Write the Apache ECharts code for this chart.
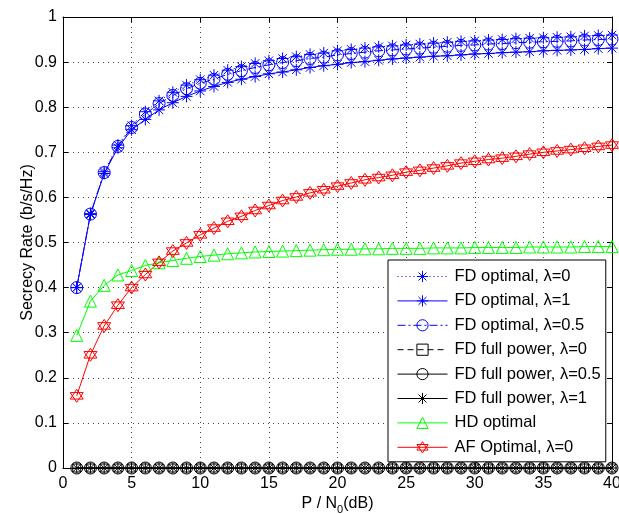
<!DOCTYPE html>
<html>
<head>
<meta charset="utf-8">
<script src="https://cdn.jsdelivr.net/npm/echarts@6/dist/echarts.min.js"></script>
<style>
html,body{margin:0;padding:0;background:#fff;}
#chart{width:619px;height:514px;}
</style>
</head>
<body>
<div id="chart"></div>
<script>
var xValues = [1,2,3,4,5,6,7,8,9,10,11,12,13,14,15,16,17,18,19,20,21,22,23,24,25,26,27,28,29,30,31,32,33,34,35,36,37,38,39,40];

var fdOptLam0 = [0.400,0.564,0.657,0.716,0.759,0.790,0.814,0.833,0.849,0.861,0.871,0.882,0.890,0.897,0.903,0.908,0.912,0.917,0.920,0.925,0.928,0.931,0.934,0.936,0.938,0.940,0.942,0.944,0.946,0.947,0.949,0.950,0.952,0.953,0.954,0.955,0.956,0.958,0.959,0.960];
var fdOptLam1 = [0.400,0.562,0.653,0.710,0.750,0.773,0.794,0.810,0.824,0.836,0.846,0.855,0.862,0.868,0.874,0.878,0.883,0.888,0.892,0.895,0.899,0.901,0.904,0.907,0.909,0.911,0.913,0.914,0.916,0.918,0.919,0.921,0.922,0.923,0.925,0.926,0.927,0.928,0.930,0.931];
var fdOptLam05 = [0.400,0.563,0.655,0.713,0.755,0.785,0.808,0.826,0.841,0.853,0.862,0.873,0.881,0.888,0.894,0.899,0.903,0.908,0.911,0.916,0.919,0.922,0.925,0.927,0.929,0.931,0.933,0.935,0.937,0.938,0.940,0.941,0.943,0.944,0.945,0.946,0.947,0.949,0.950,0.951];
var fdFullLam0 = [0,0,0,0,0,0,0,0,0,0,0,0,0,0,0,0,0,0,0,0,0,0,0,0,0,0,0,0,0,0,0,0,0,0,0,0,0,0,0,0];
var fdFullLam05 = [0,0,0,0,0,0,0,0,0,0,0,0,0,0,0,0,0,0,0,0,0,0,0,0,0,0,0,0,0,0,0,0,0,0,0,0,0,0,0,0];
var fdFullLam1 = [0,0,0,0,0,0,0,0,0,0,0,0,0,0,0,0,0,0,0,0,0,0,0,0,0,0,0,0,0,0,0,0,0,0,0,0,0,0,0,0];
var hdOpt = [0.294,0.370,0.405,0.428,0.438,0.449,0.455,0.460,0.465,0.469,0.472,0.475,0.477,0.479,0.480,0.481,0.482,0.483,0.484,0.485,0.485,0.486,0.486,0.487,0.487,0.487,0.488,0.488,0.488,0.489,0.489,0.489,0.489,0.490,0.490,0.490,0.490,0.491,0.491,0.491];
var afOpt = [0.160,0.251,0.315,0.361,0.400,0.429,0.456,0.481,0.499,0.517,0.532,0.547,0.558,0.571,0.582,0.593,0.601,0.610,0.617,0.625,0.632,0.639,0.644,0.649,0.656,0.660,0.665,0.670,0.676,0.680,0.684,0.687,0.691,0.696,0.700,0.703,0.706,0.709,0.713,0.716];

var seriesNames = ['FD optimal, λ=0','FD optimal, λ=1','FD optimal, λ=0.5','FD full power, λ=0','FD full power, λ=0.5','FD full power, λ=1','HD optimal','AF Optimal, λ=0'];

var FONT = "'Liberation Sans', Arial, sans-serif";
var ASTERISK = 'path://M10,0L10,20M0,10L20,10M2.93,2.93L17.07,17.07M2.93,17.07L17.07,2.93';
var HEXAGRAM = 'path://M10,0L18.66,15L1.34,15ZM10,20L1.34,5L18.66,5Z';

function pairs(arr){ return xValues.map(function(x,i){ return [x, arr[i]]; }); }

function mk(name, arr, color, lineType, symbol, size){
  return {
    name: name, type: 'line', data: pairs(arr),
    xAxisIndex: 0, yAxisIndex: 0,
    symbol: symbol, symbolSize: size, showSymbol: true,
    lineStyle: {color: color, width: 1, type: lineType},
    itemStyle: {color: 'transparent', borderColor: color, borderWidth: 1},
    emphasis: {disabled: true},
    animation: false
  };
}

var chart = echarts.init(document.getElementById('chart'), null, {renderer: 'canvas'});

var axisCommon = {
  type: 'value',
  axisLine: {show: true, onZero: false, lineStyle: {color: '#000', width: 1}},
  axisTick: {show: true, inside: true, length: 5, lineStyle: {color: '#000'}},
  nameMoveOverlap: false
};

var option = {
  backgroundColor: '#fff',
  animation: false,
  textStyle: {fontFamily: FONT},
  grid: {left: 63, right: 7, top: 17, bottom: 46, containLabel: false, outerBoundsMode: 'none'},
  xAxis: [
    Object.assign({}, axisCommon, {
      min: 0, max: 40, interval: 5, position: 'bottom',
      name: '{a|P / N}{b|0}{a|(dB)}', nameLocation: 'middle', nameGap: 25,
      nameTextStyle: {rich: {a: {fontSize: 16, fontFamily: FONT, color: '#000', lineHeight: 22}, b: {fontSize: 11, fontFamily: FONT, color: '#000', lineHeight: 11, verticalAlign: 'bottom'}}},
      axisLabel: {show: true, margin: 8, fontSize: 16, color: '#000', fontFamily: FONT},
      splitLine: {show: true, lineStyle: {color: '#444', type: [1, 4], width: 1}}
    }),
    Object.assign({}, axisCommon, {
      min: 0, max: 40, interval: 5, position: 'top',
      axisLabel: {show: false}, splitLine: {show: false}
    })
  ],
  yAxis: [
    Object.assign({}, axisCommon, {
      min: 0, max: 1, interval: 0.1, position: 'left',
      name: 'Secrecy Rate (b/s/Hz)', nameLocation: 'middle', nameGap: 27,
      nameTextStyle: {fontSize: 16, color: '#000', fontFamily: FONT},
      axisLabel: {show: true, margin: 6, fontSize: 16, color: '#000', fontFamily: FONT},
      splitLine: {show: true, lineStyle: {color: '#444', type: [1, 4], width: 1}}
    }),
    Object.assign({}, axisCommon, {
      min: 0, max: 1, interval: 0.1, position: 'right',
      axisLabel: {show: false}, splitLine: {show: false}
    })
  ],
  legend: {
    orient: 'vertical', left: 388, top: 260,
    padding: [8, 5, 6, 9], itemGap: 7.4, itemWidth: 50, itemHeight: 14,
    backgroundColor: '#fff', borderColor: '#000', borderWidth: 1, borderRadius: 0,
    selectedMode: false,
    itemStyle: {borderWidth: 1},
    lineStyle: {width: 1},
    textStyle: {fontSize: 16.5, color: '#000', fontFamily: FONT, lineHeight: 16, padding: [0,0,0,2]},
    data: seriesNames
  },
  series: [
    mk(seriesNames[0], fdOptLam0, '#0000ff', [1, 3], ASTERISK, 12),
    mk(seriesNames[1], fdOptLam1, '#0000ff', 'solid', ASTERISK, 12),
    mk(seriesNames[2], fdOptLam05, '#0000ff', [8, 3, 2, 3], 'circle', 12),
    mk(seriesNames[3], fdFullLam0, '#000000', [6, 4], 'rect', 8),
    mk(seriesNames[4], fdFullLam05, '#000000', 'solid', 'circle', 12),
    mk(seriesNames[5], fdFullLam1, '#000000', 'solid', ASTERISK, 11),
    mk(seriesNames[6], hdOpt, '#00ff00', 'solid', 'triangle', 12),
    mk(seriesNames[7], afOpt, '#ff0000', 'solid', HEXAGRAM, 13)
  ]
};

chart.setOption(option);
</script>
</body>
</html>
